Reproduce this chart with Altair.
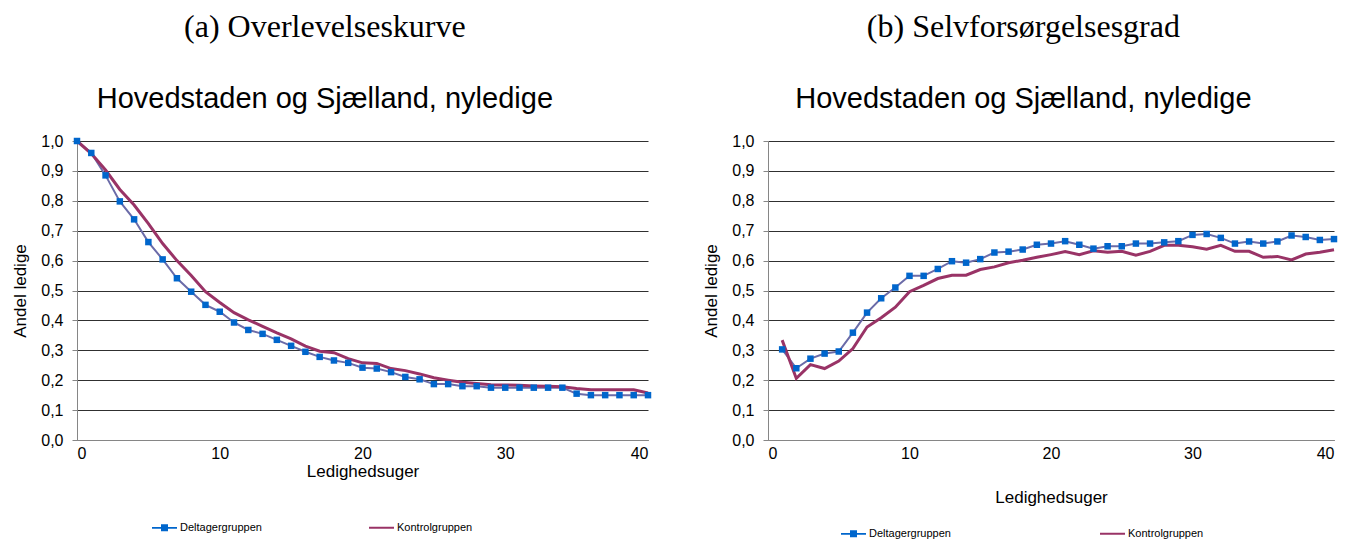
import altair as alt
import pandas as pd

# ---- data ----
series = ["Deltagergruppen", "Kontrolgruppen"]

weeks_a = list(range(0, 41))
deltager_a = [1.0, 0.96, 0.885, 0.798, 0.738, 0.662, 0.604, 0.541, 0.496, 0.452,
              0.429, 0.393, 0.368, 0.355, 0.335, 0.315, 0.295, 0.278, 0.266, 0.258,
              0.242, 0.239, 0.227, 0.211, 0.203, 0.187, 0.187, 0.18, 0.18, 0.175,
              0.175, 0.175, 0.175, 0.175, 0.175, 0.155, 0.15, 0.15, 0.15, 0.15, 0.15]
kontrol_a = [1.0, 0.958, 0.903, 0.838, 0.786, 0.724, 0.657, 0.60, 0.55, 0.496,
             0.46, 0.426, 0.402, 0.38, 0.358, 0.338, 0.314, 0.297, 0.292, 0.272,
             0.258, 0.256, 0.239, 0.232, 0.221, 0.208, 0.20, 0.193, 0.189, 0.185,
             0.184, 0.183, 0.181, 0.18, 0.178, 0.172, 0.168, 0.168, 0.168, 0.168, 0.157]

weeks_b = list(range(1, 41))
deltager_b = [0.303, 0.24, 0.272, 0.289, 0.296, 0.359, 0.426, 0.474, 0.51, 0.549,
              0.549, 0.572, 0.598, 0.593, 0.605, 0.627, 0.63, 0.637, 0.653, 0.657,
              0.665, 0.653, 0.64, 0.648, 0.648, 0.657, 0.657, 0.661, 0.665, 0.686,
              0.689, 0.676, 0.657, 0.664, 0.657, 0.664, 0.684, 0.679, 0.669, 0.672]
kontrol_b = [0.334, 0.206, 0.252, 0.239, 0.264, 0.306, 0.378, 0.409, 0.444, 0.496,
             0.517, 0.54, 0.551, 0.551, 0.57, 0.579, 0.593, 0.601, 0.611, 0.62,
             0.63, 0.62, 0.633, 0.628, 0.631, 0.618, 0.631, 0.651, 0.651, 0.646,
             0.638, 0.651, 0.631, 0.631, 0.611, 0.614, 0.602, 0.622, 0.628, 0.636]

x_ticks = [0, 10, 20, 30, 40]
y_ticks = [0.0, 0.1, 0.2, 0.3, 0.4, 0.5, 0.6, 0.7, 0.8, 0.9, 1.0]

# ---- styles ----
SANS = "Liberation Sans"
SERIF = "Liberation Serif"
DELT_LINE = "#6B6BA8"
DELT_MARK = "#0066CC"
KONT_LINE = "#993366"
legend_paths = [
    "M-1,-0.07H-0.28V-0.28H0.28V-0.07H1V0.07H0.28V0.28H-0.28V0.07H-1Z",
    "M-1,-0.08H1V0.08H-1Z",
]


def panel(weeks, d, k, title, subtitle, width, height, lx, ly, colpad, xtitle_y, tdx):
    df = pd.DataFrame({
        "uge": weeks + weeks,
        "andel": d + k,
        "gruppe": [series[0]] * len(weeks) + [series[1]] * len(weeks),
    })
    x = alt.X("uge:Q", scale=alt.Scale(domain=[0, 40], nice=False),
              axis=alt.Axis(values=x_ticks, title="Ledighedsuger", grid=False,
                            ticks=False, tickSize=0, labelPadding=5,
                            titleY=xtitle_y, titleBaseline="middle",
                            format="d"))
    y = alt.Y("andel:Q", scale=alt.Scale(domain=[0, 1], nice=False),
              axis=alt.Axis(values=y_ticks, title="Andel ledige", grid=True,
                            labelExpr="replace(format(datum.value, '.1f'), '.', ',')",
                            tickSize=5, labelPadding=9, titlePadding=11))
    base = alt.Chart(df)
    d_line = base.transform_filter(alt.datum.gruppe == series[0]).mark_line(
        color=DELT_LINE, strokeWidth=2).encode(x=x, y=y)
    k_line = base.transform_filter(alt.datum.gruppe == series[1]).mark_line(
        color=KONT_LINE, strokeWidth=3).encode(x=x, y=y)
    d_pts = base.transform_filter(alt.datum.gruppe == series[0]).mark_square(
        color=DELT_MARK, size=42, opacity=1).encode(x=x, y=y)
    leg = alt.Legend(title=None, orient="none", legendX=lx, legendY=ly,
                     direction="horizontal", columns=2, columnPadding=colpad,
                     labelFont=SANS, labelFontSize=11, labelColor="black",
                     symbolSize=625, symbolStrokeWidth=0, labelOffset=3,
                     symbolOpacity=1)
    legend_layer = base.transform_filter("false").mark_point(
        filled=True, opacity=1).encode(
        x=x, y=y,
        fill=alt.Fill("gruppe:N", scale=alt.Scale(domain=series, range=[DELT_MARK, KONT_LINE]), legend=leg),
        shape=alt.Shape("gruppe:N", scale=alt.Scale(domain=series, range=legend_paths), legend=leg),
    )
    return alt.layer(d_line, k_line, d_pts, legend_layer).properties(
        width=width, height=height,
        title=alt.TitleParams(text=title, subtitle=subtitle, font=SERIF, fontSize=32,
                              fontWeight="normal", color="black",
                              subtitleFont=SANS, subtitleFontSize=29,
                              subtitleColor="black", subtitlePadding=41,
                              anchor="middle", frame="bounds", offset=18, dx=tdx),
    )


left = panel(weeks_a, deltager_a, kontrol_a, "(a) Overlevelseskurve",
             "Hovedstaden og Sjælland, nyledige", 571, 299, 75, 374, 107, 31, -8)
right = panel(weeks_b, deltager_b, kontrol_b, "(b) Selvforsørgelsesgrad",
              "Hovedstaden og Sjælland, nyledige", 566, 299, 73, 380, 149, 57, 2)

chart = alt.hconcat(left, right, spacing=48).resolve_scale(
    fill="independent", shape="independent"
).resolve_legend(fill="independent", shape="independent").configure(
    padding={"left": 3, "top": 3, "right": 3, "bottom": 5}
).configure_view(stroke=None).configure_axis(
    labelFont=SANS, labelFontSize=16, labelColor="black",
    titleFont=SANS, titleFontSize=17, titleFontWeight="normal", titleColor="black",
    domainColor="#868686", tickColor="#868686", gridColor="#303030", gridWidth=1,
)

chart.save("out.html", embed_options={"renderer": "svg", "actions": False})
